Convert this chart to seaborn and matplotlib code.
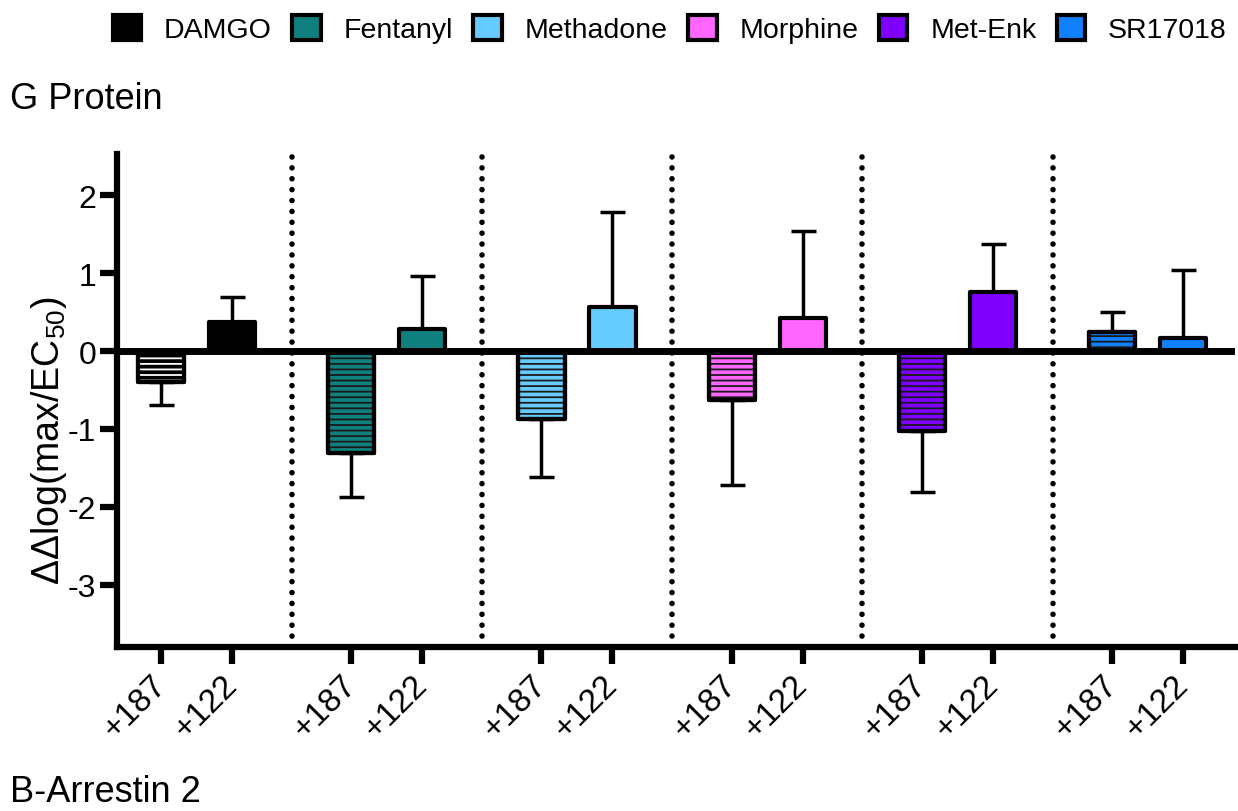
import numpy as np
import pandas as pd
import matplotlib
matplotlib.use("Agg")
import matplotlib.pyplot as plt
import seaborn as sns
from matplotlib.patches import Patch

# ---- data -------------------------------------------------------------
drugs = ["DAMGO", "Fentanyl", "Methadone", "Morphine", "Met-Enk", "SR17018"]
mutants = ["+187", "+122"]
colors = ["#000000", "#10807E", "#66CCFF", "#FF66FF", "#8000FF", "#1080FF"]

# ΔΔlog(max/EC50) per drug, for each mutant
vals_187 = [-0.40, -1.31, -0.87, -0.63, -1.03, 0.24]
vals_122 = [0.38, 0.28, 0.56, 0.42, 0.76, 0.17]
# SEM (drawn one-sided, away from zero)
sem_187 = [0.29, 0.56, 0.75, 1.09, 0.78, 0.26]
sem_122 = [0.32, 0.69, 1.22, 1.12, 0.62, 0.87]

# ---- layout of the grouped positions ---------------------------------
group_step = 2.68
pos_187 = [i * group_step for i in range(len(drugs))]
pos_122 = [p + 1.0 for p in pos_187]

df = pd.DataFrame({
    "pos": pos_187 + pos_122,
    "value": vals_187 + vals_122,
    "sem": sem_187 + sem_122,
    "drug": drugs + drugs,
    "mutant": [mutants[0]] * len(drugs) + [mutants[1]] * len(drugs),
})

sns.set_theme(style="white")
plt.rcParams["font.family"] = ["Liberation Sans", "DejaVu Sans"]
plt.rcParams["mathtext.fontset"] = "custom"
plt.rcParams["mathtext.rm"] = "Liberation Sans"
plt.rcParams["mathtext.it"] = "Liberation Sans"
plt.rcParams["mathtext.default"] = "regular"
plt.rcParams["hatch.linewidth"] = 1.3
for key in ["text.color", "axes.labelcolor", "xtick.color", "ytick.color",
            "axes.edgecolor"]:
    plt.rcParams[key] = "black"

fig = plt.figure(figsize=(12.38, 8.12), dpi=100)
ax = fig.add_axes([0.0945, 0.202, 0.9031, 0.607])

bar_w = 0.65
palette = dict(zip(drugs, colors))

sns.barplot(data=df, x="pos", y="value", hue="drug", palette=palette,
            native_scale=True, dodge=False, width=bar_w, errorbar=None,
            saturation=1, edgecolor="black", linewidth=3, legend=False,
            ax=ax, zorder=3)

# horizontal hatching on the +187 bars, then re-draw their outline
sub = df[df["mutant"] == mutants[0]].reset_index(drop=True)
for _, row in sub.iterrows():
    hcol = "white" if row["drug"] == "DAMGO" else "#1a1a1a"
    ax.bar(row["pos"], row["value"], width=bar_w, facecolor="none",
           edgecolor=hcol, hatch="---", linewidth=0, zorder=4)
ax.bar(sub["pos"], sub["value"], width=bar_w, facecolor="none",
       edgecolor="black", linewidth=3, zorder=5)
for p in ax.patches:
    p.set_joinstyle("round")

# one-sided error bars
lower = np.where(df["value"] < 0, df["sem"], 0.0)
upper = np.where(df["value"] >= 0, df["sem"], 0.0)
ax.errorbar(df["pos"], df["value"], yerr=[lower, upper], fmt="none",
            ecolor="black", elinewidth=2.5, capsize=9, capthick=2.5,
            zorder=1)

# zero line and dotted group separators
ax.axhline(0, color="black", linewidth=5, zorder=6)
for i in range(len(drugs) - 1):
    xsep = (pos_122[i] + pos_187[i + 1]) / 2
    ax.axvline(xsep, color="black", linewidth=4,
               linestyle=(0, (0.01, 1.95)), dash_capstyle="round", zorder=2)

# ---- axes styling ----------------------------------------------------
ax.set_xlim(-0.62, 15.13)
ax.set_ylim(-3.8, 2.53)
ax.set_yticks([-3, -2, -1, 0, 1, 2])
ax.set_yticklabels(["-3", "-2", "-1", "0", "1", "2"])
ax.set_xticks(pos_187 + pos_122)
ax.set_xticklabels([mutants[0]] * len(drugs) + [mutants[1]] * len(drugs))
for lab in ax.get_xticklabels():
    lab.set_rotation(45)
    lab.set_ha("right")
    lab.set_va("center")
    lab.set_rotation_mode("anchor")
ax.tick_params(axis="both", direction="out", length=12, width=4.5,
               colors="black", bottom=True, left=True)
ax.tick_params(axis="y", labelsize=23, pad=3)
ax.tick_params(axis="x", labelsize=24, pad=12)
ax.set_xlabel("")
ax.set_ylabel("ΔΔlog(max/EC$_{50}$)", fontsize=27, labelpad=6)
ax.yaxis.set_label_coords(-0.043, 0.42)

for side in ["top", "right"]:
    ax.spines[side].set_visible(False)
for side in ["left", "bottom"]:
    ax.spines[side].set_linewidth(4.5)
    ax.spines[side].set_color("black")
ax.grid(False)

# panel titles
fig.text(0.008, 0.877, "G Protein", fontsize=26, ha="left", va="center")
fig.text(0.008, 0.024, "B-Arrestin 2", fontsize=26, ha="left", va="center")

# legend
handles = [Patch(facecolor=c, edgecolor="black", linewidth=3, label=d)
           for d, c in zip(drugs, colors)]
fig.legend(handles=handles, loc="center", ncol=6,
           bbox_to_anchor=(0.541, 0.963), frameon=False, fontsize=20.5,
           handlelength=1.0, handleheight=0.95, handletextpad=0.8,
           columnspacing=0.72, borderaxespad=0)

fig.savefig("out.png", dpi=100)
